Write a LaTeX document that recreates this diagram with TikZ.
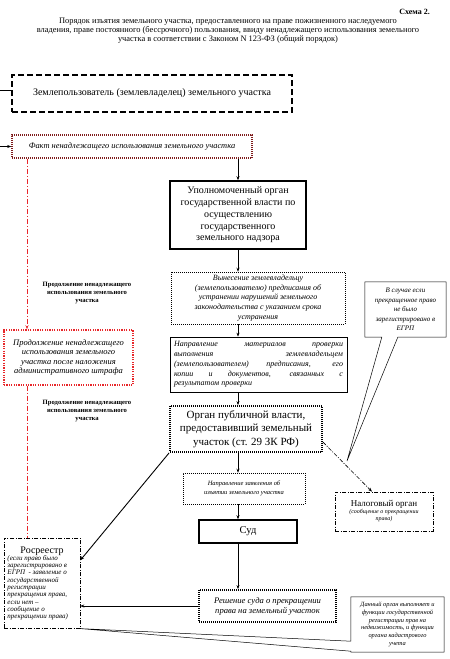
\documentclass[tikz,border=0pt]{standalone}
\usepackage{fontspec}
\setmainfont{Liberation Serif}
\usetikzlibrary{arrows.meta}
\definecolor{darkred}{HTML}{7F1D1D}
\definecolor{brightred}{HTML}{E8262A}
\begin{document}
\begin{tikzpicture}[x=1pt, y=-1pt,
    every node/.style={inner sep=1pt, align=center},
    arr/.style={-{Stealth[length=4pt,width=3pt]}, line width=0.6pt},
    dashbox/.style={draw, line width=2pt, dash pattern=on 6pt off 3pt},
    faktbox/.style={draw=darkred, line width=1.6pt, dash pattern=on 1pt off 1pt},
    prodbox/.style={draw=brightred, line width=1.6pt, dash pattern=on 1.2pt off 1.2pt},
    solidbox/.style={draw, line width=1.5pt},
    thinbox/.style={draw, line width=0.7pt},
    dotbox/.style={draw, line width=0.5pt, dash pattern=on 1pt off 1pt},
    thickdot/.style={draw, line width=1.8pt, dash pattern=on 1pt off 1pt},
    dashdot/.style={draw, line width=0.6pt, dash pattern=on 4pt off 1.5pt on 1pt off 1.5pt},
    redline/.style={brightred, line width=1pt, dash pattern=on 5pt off 2pt on 1pt off 2pt},
    lbl/.style={font=\bfseries\fontsize{6.6}{7.6}\selectfont}
]
\useasboundingbox (0,0) rectangle (450,659);

% title
\node[anchor=east, font=\bfseries\fontsize{8}{9}\selectfont] (schema) at (431,12) {Схема 2.};
\node[font=\fontsize{8.4}{9}\selectfont] (title) at (228,30.5)
    {Порядок изъятия земельного участка, предоставленного на праве пожизненного наследуемого\\
     владения, праве постоянного (бессрочного) пользования, ввиду ненадлежащего использования земельного\\
     участка  в соответствии с Законом N 123-ФЗ (общий порядок)};

% main column
\node[dashbox, minimum width=280pt, minimum height=37pt, font=\fontsize{10}{11.5}\selectfont] (zemlep) at (152,93.5)
    {Землепользователь (землевладелец) земельного участка};
\node[faktbox, minimum width=240pt, minimum height=23pt, font=\itshape\fontsize{8.4}{9}\selectfont] (fakt) at (132,146.5)
    {Факт ненадлежащего использования земельного участка};
\node[solidbox, minimum width=136pt, minimum height=68pt, font=\fontsize{10}{11.7}\selectfont] (upol) at (238,215)
    {Уполномоченный орган\\государственной власти по\\осуществлению\\государственного\\земельного надзора};
\node[dotbox, minimum width=174pt, minimum height=52pt, font=\itshape\fontsize{8}{9.6}\selectfont] (vyn) at (258,298)
    {Вынесение землевладельцу\\(землепользователю) предписания об\\устранении  нарушений земельного\\законодательства с указанием срока\\устранения};
\node[thinbox, minimum width=177pt, minimum height=55pt, text width=169pt, align=justify, font=\itshape\fontsize{8}{9.8}\selectfont] (napr) at (258.5,364.5)
    {Направление материалов проверки\linebreak выполнения землевладельцем\linebreak (землепользователем) предписания, его\linebreak копии и документов, связанных с\linebreak результатом проверки};
\node[thickdot, minimum width=152pt, minimum height=46pt, font=\fontsize{11}{13.3}\selectfont] (organ) at (246,429)
    {Орган публичной власти,\\предоставивший земельный\\участок (ст. 29 ЗК РФ)};
\node[dotbox, minimum width=122pt, minimum height=31pt, font=\itshape\fontsize{6.5}{8.5}\selectfont] (zayav) at (244,488.5)
    {Направление заявления об\\изъятии земельного участка};
\node[solidbox, minimum width=98pt, minimum height=23pt, font=\fontsize{10.5}{12}\selectfont] (sud) at (248,531.5) {Суд};
\node[thickdot, minimum width=137pt, minimum height=32pt, font=\itshape\fontsize{8.6}{10}\selectfont] (resh) at (267.5,606)
    {Решение суда о прекращении\\права на земельный участок};

% left column
\node[prodbox, minimum width=129pt, minimum height=55pt, font=\itshape\fontsize{8.5}{9.3}\selectfont] (prod) at (68.5,357.5)
    {Продолжение ненадлежащего\\использования земельного\\участка после наложения\\административного штрафа};
\node[lbl] (cont1) at (87,293) {Продолжение ненадлежащего\\использования земельного\\участка};
\node[lbl] (cont2) at (87,411) {Продолжение ненадлежащего\\использования земельного\\участка};
\node[dashdot, minimum width=76pt, minimum height=90pt, anchor=north, inner sep=2pt] (rosr) at (42,538)
    {{\fontsize{10}{11}\selectfont Росреестр}\\[-1pt]
     \parbox{69pt}{\raggedright\itshape\fontsize{7}{7.3}\selectfont (если право было\\зарегистрировано в\\ЕГРП~ - заявление о\\государственной\\регистрации\\прекращения права,\\если нет~–\\сообщение о\\прекращении права)}};

% right column
\node[dashdot, minimum width=98pt, minimum height=39pt, font=\itshape\fontsize{6}{7}\selectfont] (nalog) at (384,511.5)
    {{\upshape\fontsize{9}{11}\selectfont Налоговый орган}\\(сообщение о прекращении\\права)};
\node[minimum width=81pt, minimum height=55pt, font=\itshape\fontsize{7}{9.5}\selectfont] (inc1) at (405.5,309.5)
    {В случае если\\прекращенное право\\не было\\зарегистрировано в\\ЕГРП};
\node[minimum width=93pt, minimum height=55pt, font=\itshape\fontsize{6.4}{7.8}\selectfont] (inc2) at (397.5,624.5)
    {Данный орган выполняет и\\функции государственной\\регистрации прав на\\недвижимость, и функции\\органа кадастрового\\учета};
\coordinate (tip1) at (347,461);
\draw[line width=0.5pt] (inc1.north west) -- (inc1.north east) -- (inc1.south east)
    -- ([xshift=33pt]inc1.south west) -- (tip1) -- ([xshift=17pt]inc1.south west) -- (inc1.south west) -- cycle;
\draw[line width=0.5pt] (inc2.north west) -- (inc2.north east) -- (inc2.south east) -- (inc2.south west)
    -- ([yshift=1pt]inc2.south west) -- (rosr.south east) -- ([yshift=11pt]inc2.south west) -- cycle;

% connectors
\coordinate (lft1) at (0,90);
\coordinate (lft2) at (0,146.5);
\draw[line width=0.6pt] (lft1) -- (lft1 -| zemlep.west);
\draw[arr] (lft2) -- (fakt.west);
\draw[arr] (upol.north |- fakt.south) -- (upol.north);
\draw[arr] (upol.south) -- (upol.south |- vyn.north);
\draw[arr] (upol.south |- vyn.south) -- (upol.south |- napr.north);
\draw[arr] (upol.south |- napr.south) -- (upol.south |- organ.north);
\draw[arr] (upol.south |- organ.south) -- (upol.south |- zayav.north);
\draw[arr] (upol.south |- zayav.south) -- (upol.south |- sud.north);
\draw[arr] (upol.south |- sud.south) -- (upol.south |- resh.north);
\draw[arr, line width=0.9pt] (organ.south west) -- ([yshift=23pt]rosr.east);
\draw[arr] (resh.west) -- (resh.west -| rosr.east);
\draw[arr, dash pattern=on 4pt off 1.5pt on 1pt off 1.5pt] ([yshift=-13pt]organ.east) -- ([xshift=-12pt]nalog.north);
\coordinate (redx) at (27,0);
\draw[redline, -{Stealth[length=4pt,width=3pt]}] (redx |- fakt.south) -- (redx |- prod.north);
\draw[redline] (redx |- prod.south) -- (redx |- rosr.north);
\end{tikzpicture}
\end{document}
